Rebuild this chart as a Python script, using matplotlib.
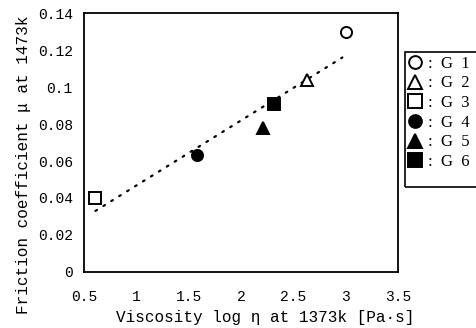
import matplotlib
matplotlib.use("Agg")
import matplotlib.pyplot as plt
from matplotlib.patches import Rectangle

# glass samples: viscosity log(eta) at 1373k vs friction coefficient at 1473k
labels = ["G 1", "G 2", "G 3", "G 4", "G 5", "G 6"]
log_eta = [3.00, 2.63, 0.61, 1.58, 2.21, 2.32]
mu = [0.130, 0.104, 0.040, 0.063, 0.078, 0.091]
markers = ["o", "^", "s", "o", "^", "s"]
filled = [False, False, False, True, True, True]

# dotted trend line (end points)
fit_x = [0.61, 2.97]
fit_y = [0.033, 0.116]

xticks = [0.5, 1, 1.5, 2, 2.5, 3, 3.5]
yticks = [0, 0.02, 0.04, 0.06, 0.08, 0.1, 0.12, 0.14]

mono = "Liberation Mono"
serif = "Liberation Serif"

fig = plt.figure(figsize=(4.77, 3.28), dpi=100)
ax = fig.add_axes([0.176, 0.171, 0.658, 0.789])

ax.plot(fit_x, fit_y, color="black", linewidth=1.6,
        linestyle=(0, (0.8, 3.4)), dash_capstyle="round", zorder=2)

for x, y, m, f, lab in zip(log_eta, mu, markers, filled, labels):
    size = 8 if m == "o" else 8.5
    ax.plot([x], [y], linestyle="none", marker=m, markersize=size,
            markerfacecolor="black" if f else "white",
            markeredgecolor="black", markeredgewidth=1.4,
            label=":  " + lab.replace(" ", "  "), zorder=3)

ax.set_xlim(0.5, 3.5)
ax.set_ylim(0, 0.14)
ax.set_xticks(xticks)
ax.set_yticks(yticks)
ax.set_xticklabels(["%g" % t for t in xticks], fontfamily=mono, fontsize=10.5)
ax.set_yticklabels(["%g" % t for t in yticks], fontfamily=mono, fontsize=10.5)
ax.tick_params(axis="x", length=0, pad=13)
ax.tick_params(axis="y", length=0, pad=8)
for s in ax.spines.values():
    s.set_linewidth(1.3)
ax.set_xlabel("Viscosity log η at 1373k [Pa·s]", fontfamily=mono, fontsize=11.5)
ax.set_ylabel("Friction coefficient μ at 1473k", fontfamily=mono, fontsize=11.5)
ax.xaxis.set_label_coords(0.576, -0.148)
ax.yaxis.set_label_coords(-0.168, 0.413)

leg = ax.legend(loc="upper left", bbox_to_anchor=(1.03, 0.835),
                prop={"family": serif, "size": 12}, frameon=False,
                handlelength=0.9, handletextpad=0.35, labelspacing=0.22,
                borderpad=0, borderaxespad=0, markerscale=1.15)

# legend frame: taller than the entries, runs off the right edge
fig.add_artist(Rectangle((405 / 477, 1 - 187 / 328), 80 / 477, 135 / 328,
                         transform=fig.transFigure, fill=False,
                         edgecolor="black", linewidth=1.2, clip_on=False))

fig.savefig("out.png", dpi=100)
